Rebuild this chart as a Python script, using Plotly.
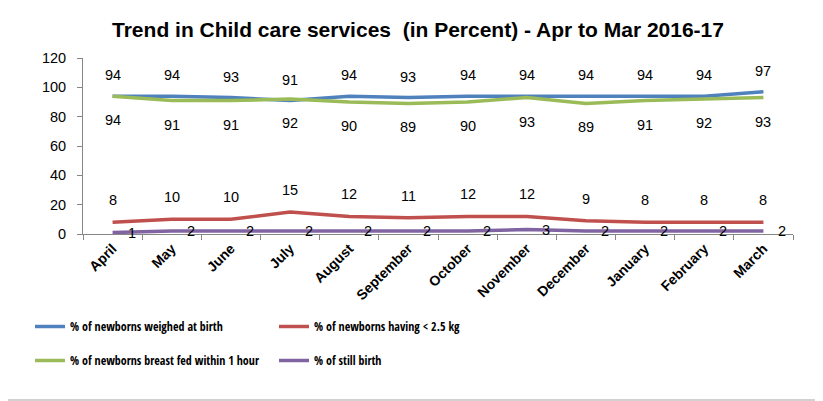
import plotly.graph_objects as go

months = ['April', 'May', 'June', 'July', 'August', 'September', 'October',
          'November', 'December', 'January', 'February', 'March']

weighed = [94, 94, 93, 91, 94, 93, 94, 94, 94, 94, 94, 97]
low_weight = [8, 10, 10, 15, 12, 11, 12, 12, 9, 8, 8, 8]
breast_fed = [94, 91, 91, 92, 90, 89, 90, 93, 89, 91, 92, 93]
still_birth = [1, 2, 2, 2, 2, 2, 2, 3, 2, 2, 2, 2]

names = ['% of newborns weighed at birth', '% of newborns having < 2.5 kg',
         '% of newborns breast fed within 1 hour', '% of still birth']
colors = ['#4F81BD', '#C0504D', '#9BBB59', '#8064A2']

series = [weighed, low_weight, breast_fed, still_birth]
legends = ['legend', 'legend2', 'legend', 'legend2']
# label placement per series: (xshift, yshift)
label_shift = [(0, 21), (0, 22), (0, -24), (19, 0)]

# page body adds an 8px offset, so layout pixels are given relative to that
OFF = 8
L, R, T, B = 83 - OFF, 793 - OFF, 58 - OFF, 234 - OFF
PW, PH = R - L, B - T


def px_x(px):
    return (px - OFF - L) / PW


def px_y(py):
    return (B - (py - OFF)) / PH


fig = go.Figure()
for i, (vals, name, col) in enumerate(zip(series, names, colors)):
    fig.add_trace(go.Scatter(
        x=months, y=vals, mode='lines', name=name,
        line=dict(color=col, width=3.5),
        legend=legends[i], legendgroup=name,
    ))

lab_font = dict(family='Liberation Sans, Arial, sans-serif', size=14.5, color='#000000')
for vals, (dx, dy) in zip(series, label_shift):
    for m, v in zip(months, vals):
        fig.add_annotation(x=m, y=v, text=str(v), showarrow=False,
                           xshift=dx, yshift=dy, font=lab_font)

# outer chart border
fig.add_shape(type='rect', xref='paper', yref='paper',
              x0=px_x(4), x1=px_x(822), y0=px_y(400), y1=px_y(3),
              line=dict(color='#A6A6A6', width=1.2), layer='below')

leg_font = dict(family='Open Sans Condensed, Roboto Condensed, sans-serif', size=12,
                weight='bold', color='#000000')
fig.update_layout(
    width=823, height=401,
    margin=dict(l=L, r=823 - R, t=T, b=401 - B, autoexpand=False),
    paper_bgcolor='white', plot_bgcolor='white',
    title=dict(text='<b>Trend in Child care services  (in Percent) - Apr to Mar 2016-17</b>',
               x=px_x(418), xref='paper', xanchor='center',
               y=1 - (30 - OFF) / 401, yanchor='middle',
               font=dict(family='Liberation Sans, Arial, sans-serif', size=21, color='#000000')),
    showlegend=True,
    legend=dict(x=px_x(30), y=px_y(312), xanchor='left', yanchor='top',
                orientation='v', traceorder='grouped', tracegroupgap=15,
                font=leg_font, bgcolor='rgba(0,0,0,0)'),
    legend2=dict(x=px_x(274), y=px_y(312), xanchor='left', yanchor='top',
                 orientation='v', traceorder='grouped', tracegroupgap=15,
                 font=leg_font, bgcolor='rgba(0,0,0,0)'),
    xaxis=dict(type='category', range=[-0.5, 11.5], tickangle=-45,
               showgrid=False, showline=True, linecolor='#868686', linewidth=1,
               ticks='outside', tickson='boundaries', ticklen=5, tickcolor='#868686',
               tickfont=dict(family='Liberation Sans, Arial, sans-serif', size=14,
                             weight='bold', color='#000000'),
               fixedrange=True),
    yaxis=dict(range=[0, 120], dtick=20, showgrid=False, zeroline=False,
               showline=True, linecolor='#868686', linewidth=1,
               ticks='outside', ticklen=5, tickcolor='#868686', ticklabelstandoff=8,
               tickfont=dict(family='Liberation Sans, Arial, sans-serif', size=14.5, color='#000000'),
               fixedrange=True),
)

fig.write_html('out.html')
